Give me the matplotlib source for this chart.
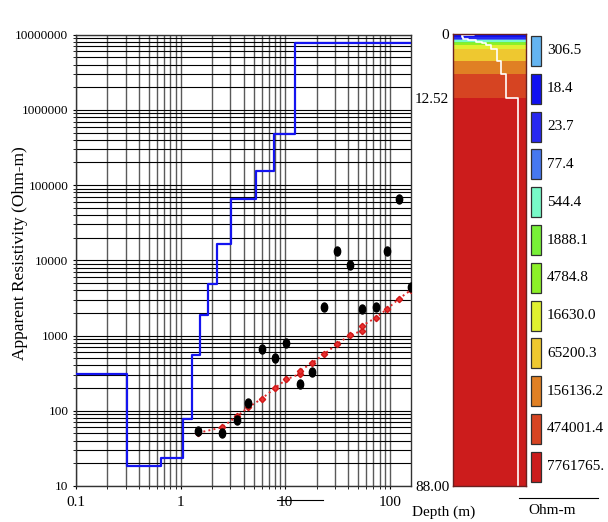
import numpy as np
import matplotlib
matplotlib.use("Agg")
import matplotlib.pyplot as plt
from matplotlib.ticker import FixedLocator, FuncFormatter, NullFormatter
from matplotlib.path import Path
from matplotlib.transforms import Affine2D
from matplotlib.patches import Rectangle

plt.rcParams['font.family'] = ['Liberation Serif', 'DejaVu Serif']

# Layered earth model: resistivity of each layer and depth of each interface (m)
layer_rho = [306.5, 18.4, 23.7, 77.4, 544.4, 1888.1, 4784.8, 16630.0,
             65200.3, 156136.2, 474001.4, 7761765.0]
layer_labels = ["306.5", "18.4", "23.7", "77.4", "544.4", "1888.1", "4784.8",
                "16630.0", "65200.3", "156136.2", "474001.4", "7761765."]
interfaces = [0.305, 0.65, 1.05, 1.3, 1.53, 1.84, 2.21, 3.07, 5.26, 7.77, 12.52]
total_depth = 88.0
layer_colors = ["#64B4F0", "#1010F0", "#2828F0", "#4678F0", "#78FAC8", "#78F038",
                "#8CF028", "#E0F030", "#EEC830", "#E08024", "#D64422", "#CC1C1C"]

# Field (observed) apparent resistivity
ab2_obs = [1.48, 2.47, 3.48, 4.44, 5.96, 7.94, 10.3, 13.8, 18.0, 23.7, 31.5,
           41.7, 54.2, 73.8, 94.0, 122.0, 160.0]
rho_obs = [54, 50, 75.5, 128, 661, 508, 805, 225, 331, 2420, 13330,
           8710, 2280, 2420, 13330, 65500, 4390]

# Calculated apparent resistivity curve
ab2_calc = [1.48, 2.47, 3.48, 4.44, 5.96, 7.94, 10.3, 13.8, 13.8, 18.0, 23.7,
            31.5, 41.7, 54.2, 54.2, 73.8, 94.0, 122.0, 160.0]
rho_calc = [51, 60, 85, 111, 144, 199, 262, 308, 341, 428, 569,
            773, 1018, 1150, 1343, 1730, 2240, 3070, 4036]

x_range = (0.1, 160)
y_range = (10, 1e7)

W, H = 608, 522
fig = plt.figure(figsize=(W / 100, H / 100), dpi=100)


def px_box(x0, y0, x1, y1):
    return [x0 / W, 1 - y1 / H, (x1 - x0) / W, (y1 - y0) / H]


def log_ticks(lo, hi):
    """Decade ticks and 2..9 sub-ticks lying inside [lo, hi]."""
    d0, d1 = int(np.floor(np.log10(lo))), int(np.ceil(np.log10(hi)))
    major = [10.0 ** d for d in range(d0, d1 + 1)]
    minor = [m * 10.0 ** d for d in range(d0, d1 + 1) for m in range(2, 10)]
    inside = lambda v: lo * (1 - 1e-9) <= v <= hi * (1 + 1e-9)
    return [v for v in major if inside(v)], [v for v in minor if inside(v)]


# Overlay in pixel units for the colour key and annotations
key = fig.add_axes([0, 0, 1, 1])
key.set_xlim(0, W)
key.set_ylim(H, 0)
key.axis('off')

# ---- Sounding curve panel ----
ax = fig.add_axes(px_box(76, 34.7, 411, 486))
ax.set_xscale('log')
ax.set_yscale('log')
ax.set_xlim(*x_range)
ax.set_ylim(*y_range)

for axis, rng in ((ax.xaxis, x_range), (ax.yaxis, y_range)):
    major, minor = log_ticks(*rng)
    axis.set_major_locator(FixedLocator(major))
    axis.set_minor_locator(FixedLocator(minor))
    axis.set_minor_formatter(NullFormatter())
ax.xaxis.set_major_formatter(FuncFormatter(lambda v, p: f"{v:g}"))
ax.yaxis.set_major_formatter(FuncFormatter(lambda v, p: f"{v:.0f}"))

ax.yaxis.grid(True, which='both', color='black', lw=0.8)
ax.xaxis.grid(True, which='both', color='#5a5a5a', lw=1.0)
ax.set_axisbelow(True)
ax.tick_params(which='both', length=2)
ax.tick_params(axis='y', labelsize=9.5, pad=3.5)
ax.tick_params(axis='x', labelsize=11, pad=5)
for s in ax.spines.values():
    s.set_color('#333333')
    s.set_linewidth(1.0)

ax.set_ylabel("Apparent Resistivity (Ohm-m)", fontsize=12.5)
ax.yaxis.set_label_coords(-0.143, 0.516)

# model as a step line: each resistivity held over its depth interval
step_x = [x_range[0]] + interfaces + [x_range[1]]
step_y = layer_rho + [layer_rho[-1]]
ax.step(step_x, step_y, where='post', color='#1414F0', lw=1.6, zorder=3)

ax.plot(ab2_calc, rho_calc, ls=':', color='#E02828', lw=1.4, marker='D',
        ms=3.2, mec='#D01818', mfc='#E83030', zorder=4)

ellipse = Path.unit_circle().transformed(Affine2D().scale(0.7, 1.0))
ax.plot(ab2_obs, rho_obs, ls='none', marker=ellipse, ms=6.5, color='black',
        zorder=5)

# ---- Depth column ----
col = fig.add_axes(px_box(453.3, 33.7, 526, 486))
col.set_xscale('log')
col.set_xlim(2.7, 4.9e7)
col.set_ylim(total_depth, 0)
edges = [0.0] + interfaces + [total_depth]
for top, bot, c in zip(edges[:-1], edges[1:], layer_colors):
    col.axhspan(top, bot, color=c, lw=0)
col.plot(np.repeat(layer_rho, 2), np.repeat(edges, 2)[1:-1], color='white',
         lw=1.2)
col.set_xticks([])
col.set_xticks([], minor=True)
col.set_yticks([0, interfaces[-1], total_depth])
col.set_yticklabels(["0", f"{interfaces[-1]:.2f}", f"{total_depth:.2f}"])
col.tick_params(axis='y', length=0, pad=3, labelsize=11)
col.set_yticks([], minor=True)
for s in col.spines.values():
    s.set_color('#6a2020')
    s.set_linewidth(1.0)

key.text(443.5, 512, "Depth (m)", ha='center', va='center', fontsize=11)

# ---- Colour key ----
for i, (c, lab) in enumerate(zip(layer_colors, layer_labels)):
    y0 = 36 + i * 37.8
    key.add_patch(Rectangle((530.5, y0), 10.5, 30, facecolor=c,
                            edgecolor='#303030', lw=0.9))
    key.text(547, y0 + 15, lab, ha='left', va='center', fontsize=11)

key.plot([519, 598], [498.3, 498.3], color='black', lw=0.8)
key.text(552, 510.5, "Ohm-m", ha='center', va='center', fontsize=11)
key.plot([277, 323], [500, 500], color='black', lw=0.8)

fig.savefig("out.png", dpi=100)
